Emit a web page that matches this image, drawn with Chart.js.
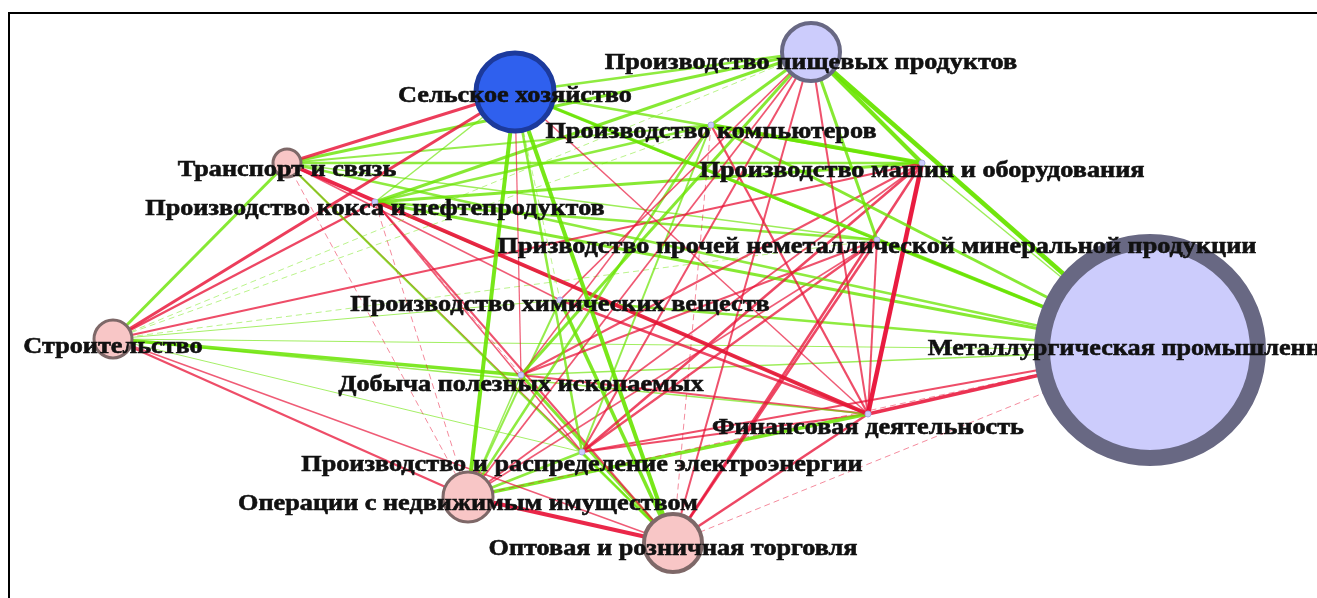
<!DOCTYPE html>
<html>
<head>
<meta charset="utf-8">
<script src="https://cdn.jsdelivr.net/npm/chart.js@4"></script>
<style>
  html, body { margin: 0; padding: 0; background: #fff; overflow: hidden; }
  #frame { position: absolute; left: 8px; top: 12px; width: 1400px; height: 700px;
           border-top: 2px solid #000; border-left: 2px solid #000; }
  #box { position: absolute; left: 0; top: 0; width: 1317px; height: 598px; }
</style>
</head>
<body>
<div id="frame"></div>
<div id="box"><canvas id="graph"></canvas></div>
<script>
// nodes of the network (layout coordinates, y grows downward)
const nodeNames = [
  "Сельское хозяйство",
  "Производство пищевых продуктов",
  "Производство компьютеров",
  "Производство машин и оборудования",
  "Транспорт и связь",
  "Производство кокса и нефтепродуктов",
  "Призводство прочей неметаллической минеральной продукции",
  "Производство химических веществ",
  "Строительство",
  "Металлургическая промышленность",
  "Добыча полезных ископаемых",
  "Финансовая деятельность",
  "Производство и распределение электроэнергии",
  "Операции с недвижимым имуществом",
  "Оптовая и розничная торговля",
];
const nodeX = [515, 811, 711, 922, 287, 375, 877, 560, 113, 1150, 521, 868, 582, 468, 673];
const nodeY = [92, 52, 125, 163, 163, 202, 240, 300, 339, 350, 375, 414, 452, 497, 543];
const nodeWeight = [39, 29, 3, 3, 14, 3, 3, 3, 19, 108, 3, 3, 3, 25, 29];
const nodeGroup = ["a", "b", "b", "b", "c", "b", "b", "b", "c", "b", "b", "b", "b", "c", "c"];

// links: from, to, signed strength (+ green, - red)
const edgeFrom = [
  0, 0, 0, 0, 0, 0, 0, 0, 0, 0, 0, 0, 0,
  1, 1, 1, 1, 1, 1, 1, 1, 1, 1, 1, 1, 1,
  2, 2, 2, 2, 2, 2, 2, 2, 2, 2,
  3, 3, 3, 3, 3, 3, 3, 3, 3,
  4, 4, 4, 4, 4, 4, 4,
  5, 5, 5, 5, 5, 5, 5, 5,
  6, 6, 6, 6, 6, 6, 6,
  7, 7, 7, 7, 7, 7,
  8, 8, 8, 8, 8, 8,
  9, 9, 9, 9, 9,
  10, 10, 10,
  11, 11, 11,
  12, 12,
  13,
];
const edgeTo = [
  4, 8, 1, 9, 3, 6, 13, 14, 12, 11, 5, 10, 7,
  4, 5, 8, 2, 3, 9, 6, 10, 12, 13, 7, 14, 11,
  3, 9, 8, 4, 5, 13, 12, 11, 14, 10,
  11, 14, 12, 8, 4, 5, 9, 10, 13,
  8, 11, 14, 9, 13, 6, 12,
  9, 6, 14, 12, 10, 8, 11, 13,
  9, 8, 14, 12, 13, 11, 10,
  14, 9, 11, 4, 8, 13,
  9, 10, 13, 14, 11, 12,
  11, 12, 14, 13, 10,
  14, 11, 13,
  13, 14, 12,
  13, 14,
  14,
];
const edgeWeight = [
  -0.6, -0.6, 0.5, 0.7, 0.5, 0.4, 0.8, 0.8, 0.5, -0.3, 0.3, -0.25, 0.1,
  0.6, 0.6, 0.15, 0.6, 0.8, 0.9, 0.6, 0.6, -0.4, -0.35, -0.35, -0.4, -0.4,
  0.8, 0.6, 0.15, 0.4, 0.5, 0.5, 0.4, -0.45, -0.15, -0.3,
  -0.9, -0.5, -0.5, -0.45, 0.5, 0.6, 0.3, -0.4, -0.35,
  0.6, -0.8, 0.45, 0.5, -0.15, 0.3, -0.3,
  0.6, 0.5, -0.4, -0.3, -0.15, -0.5, 0.3, -0.15,
  0.6, 0.15, -0.5, -0.45, -0.3, -0.4, -0.4,
  0.7, 0.5, -0.5, -0.3, 0.2, 0.4,
  0.25, 0.7, -0.45, -0.3, 0.3, 0.2,
  -0.7, -0.45, -0.15, -0.15, 0.3,
  0.6, -0.4, 0.3,
  0.7, -0.5, -0.45,
  0.5, 0.4,
  -0.8,
];

const groupFill = { a: "#2f60ee", b: "#ccccfc", c: "#f8c6c6" };
const groupBorder = { a: "#1c3a9c", b: "#686883", c: "#7e6868" };

function edgeColor(w) {
  const a = Math.abs(w);
  return w > 0
    ? "rgba(105, 228, 0, " + (0.5 + 0.5 * a) + ")"
    : "rgba(232, 18, 55, " + (0.55 + 0.45 * a) + ")";
}

const nodeData = nodeNames.map((n, i) => ({ x: nodeX[i], y: nodeY[i] }));

const nodeDataset = {
  label: "nodes",
  data: nodeData,
  showLine: false,
  pointRadius: nodeWeight,
  backgroundColor: nodeGroup.map((g) => groupFill[g]),
  borderColor: nodeGroup.map((g, i) => (nodeWeight[i] < 5 ? "#a8a8e0" : groupBorder[g])),
  borderWidth: nodeWeight.map((w) => (w > 100 ? 16 : w > 35 ? 5 : w > 25 ? 4 : w > 5 ? 3 : 1)),
  clip: false,
};

const edgeDatasets = edgeFrom.map((f, i) => {
  const t = edgeTo[i];
  const w = edgeWeight[i];
  return {
    label: "edge" + i,
    data: [nodeData[f], nodeData[t]],
    showLine: true,
    pointRadius: 0,
    borderColor: edgeColor(w),
    borderWidth: Math.max(0.8, Math.abs(w) * 5),
    borderDash: Math.abs(w) <= 0.15 ? [6, 4] : [],
    clip: false,
  };
});

// labels in a bold serif face, slightly widened like the original
const labelDy = [4, 11, 7, 8, 7, 7, 7, 5, 8, -1, 10, 14, 13, 7, 6];
const nodeLabels = {
  id: "nodeLabels",
  afterDatasetsDraw(chart) {
    const ctx = chart.ctx;
    const xs = chart.scales.x;
    const ys = chart.scales.y;
    ctx.save();
    ctx.font = "bold 23px 'Liberation Serif', 'Times New Roman', serif";
    ctx.fillStyle = "#111";
    ctx.strokeStyle = "#111";
    ctx.lineWidth = 0.6;
    ctx.textAlign = "center";
    ctx.textBaseline = "middle";
    nodeNames.forEach((name, i) => {
      const px = xs.getPixelForValue(nodeX[i]);
      const py = ys.getPixelForValue(nodeY[i]);
      ctx.save();
      ctx.translate(px, py + labelDy[i]);
      ctx.scale(1.14, 1);
      ctx.fillText(name, 0, 0);
      ctx.strokeText(name, 0, 0);
      ctx.restore();
    });
    ctx.restore();
  },
};

new Chart(document.getElementById("graph"), {
  type: "scatter",
  data: { datasets: [nodeDataset, ...edgeDatasets] },
  options: {
    responsive: true,
    maintainAspectRatio: false,
    animation: false,
    layout: { padding: 0, autoPadding: false },
    plugins: { legend: { display: false }, tooltip: { enabled: false } },
    scales: {
      x: { type: "linear", min: 0, max: 1317, display: false },
      y: { type: "linear", min: 0, max: 598, reverse: true, display: false },
    },
  },
  plugins: [nodeLabels],
});
</script>
</body>
</html>
